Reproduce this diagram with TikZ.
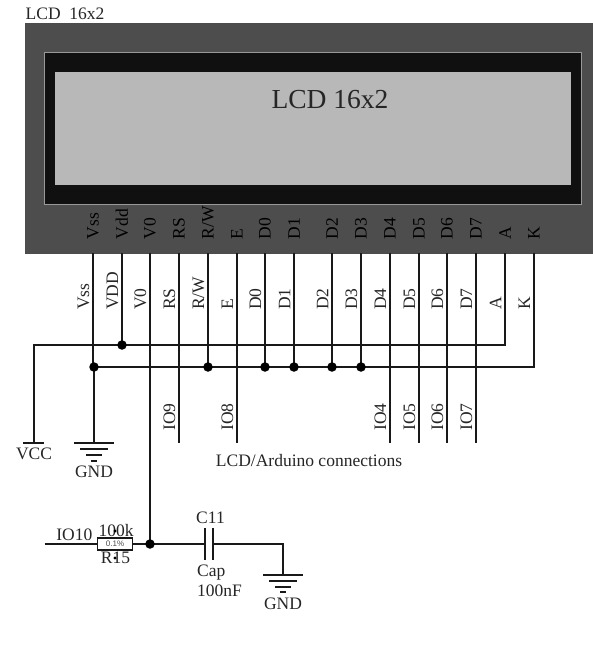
\documentclass[tikz,border=0pt]{standalone}
\usepackage{fontspec}
\setmainfont{Liberation Serif}
\setsansfont{Liberation Sans}
\tikzset{
  wire/.style={line width=1.4pt,black!90},
  lbl/.style={inner sep=0pt,font=\fontsize{17.5}{19}\selectfont,text=black!85},
  vlbl/.style={lbl,rotate=90,anchor=west},
  gndbar/.style={line width=1.4pt,black!90},
  junction/.style={circle,fill=black,inner sep=0pt,minimum size=9.5pt},
}
\definecolor{lcdbody}{HTML}{4D4D4D}
\definecolor{lcdblack}{HTML}{101010}
\definecolor{lcdscreen}{HTML}{B8B8B8}
\begin{document}
\begin{tikzpicture}[x=1pt,y=-1pt]
\useasboundingbox (0,0) rectangle (593,649);
\fill[white] (0,0) rectangle (593,649);
% LCD body
\node[lbl,anchor=west] (title) at (25.5,14) {LCD\ \ 16x2};
\draw[fill=lcdbody,draw=black!70,line width=.6pt] (25.5,23.5) rectangle (593,253);
\draw[fill=lcdblack,draw=black!40,line width=1pt] (44.5,52.5) rectangle (581,204);
\fill[lcdscreen] (54.5,71.5) rectangle (571,185);
\node[inner sep=0pt,font=\fontsize{27.5}{30}\selectfont,text=black!85] (screen) at (330,100) {LCD 16x2};
% pins
\foreach \n/\x/\a/\b in {
  1/93/Vss/Vss, 2/122/Vdd/VDD, 3/150/V0/V0, 4/179/RS/RS, 5/208/R\slash W/R\slash W,
  6/237/E/E, 7/265/D0/D0, 8/294/D1/D1, 9/332/D2/D2, 10/361/D3/D3, 11/390/D4/D4,
  12/419/D5/D5, 13/447/D6/D6, 14/476/D7/D7, 15/505/A/A, 16/534/K/K}{
  \coordinate (p\n) at (\x,253);
  \coordinate (b\n) at (\x,345);
  \coordinate (c\n) at (\x,367);
  \coordinate (e\n) at (\x,443);
  \node[vlbl,text=black] (in\n) at (\x,239.5) {\a};
  \node[vlbl] (out\n) at (\x-9.5,310) {\b};
}
% power rails
\coordinate (vcc) at (34,443);
\coordinate (vcccorner) at (34,345);
\coordinate (railgnd) at (94,367);
\coordinate (gndtop) at (94,443);
\draw[wire] (vcc) -- (vcccorner) -- (b15) -- (p15);
\draw[wire] (railgnd) -- (c16) -- (p16);
\draw[wire] (p1) -- (c1);
\draw[wire] (railgnd) -- (gndtop);
\draw[wire] (p2) -- (b2);
\foreach \n in {5,7,8,9,10} \draw[wire] (p\n) -- (c\n);
\foreach \n in {4,6,11,12,13,14} \draw[wire] (p\n) -- (e\n);
\node[junction] (j2) at (b2) {};
\node[junction] (j1) at (railgnd) {};
\foreach \n in {5,7,8,9,10} \node[junction] (j\n) at (c\n) {};
% IO labels
\foreach \n/\t in {4/IO9,6/IO8,11/IO4,12/IO5,13/IO6,14/IO7}
  \node[vlbl] (io\n) at ([xshift=-9.5pt,yshift=12pt]e\n) {\t};
% VCC
\draw[gndbar] (23,443) -- (44,443);
\node[lbl] (vcctext) at (34,453.5) {VCC};
% GND 1
\draw[gndbar] (74,443) -- (114,443) (80,449) -- (108,449) (86,455) -- (102,455) (91,461) -- (97,461);
\node[lbl] (gnd1) at (94,472) {GND};
\node[lbl] (caption) at (309,461) {LCD/Arduino connections};
% bottom circuit
\coordinate (io10) at (44.5,544);
\coordinate (v0j) at (150,544);
\coordinate (capl) at (205,544);
\coordinate (capr) at (213,544);
\coordinate (gc) at (283,544);
\coordinate (g2top) at (283,575);
\draw[wire] (p3) -- (v0j);
\node[draw=black!90,line width=1.4pt,fill=white,minimum width=35pt,minimum height=12pt,inner sep=0pt,font=\sffamily\fontsize{8}{9}\selectfont,text=black!70] (r15) at (115,544) {0.1\%};
\draw[wire] (io10) -- (r15.west);
\draw[wire] (r15.east) -- (capl);
\draw[wire] (capr) -- (gc) -- (g2top);
\node[junction] (j3) at (v0j) {};
\draw[line width=1.6pt,black!90] (capl |- 0,528) -- (capl |- 0,560) (capr |- 0,528) -- (capr |- 0,560);
\draw[gndbar] (263,575) -- (303,575) (269,581) -- (297,581) (275,587) -- (291,587) (280,592) -- (286,592);
\node[lbl,anchor=east] (io10t) at (92.5,535) {IO10};
\node[lbl] (r100k) at (116,531) {100k};
\node[lbl] (rname) at (115.5,558) {R15};
\fill[black] (115,531) circle (1.6pt) (115,558) circle (1.6pt);
\node[lbl] (c11) at (210.5,518) {C11};
\node[lbl,anchor=west] (capt) at (197,573) {Cap};
\node[lbl,anchor=west] (capv) at (197,591) {100nF};
\node[lbl] (gnd2) at (283,604) {GND};
\end{tikzpicture}
\end{document}
